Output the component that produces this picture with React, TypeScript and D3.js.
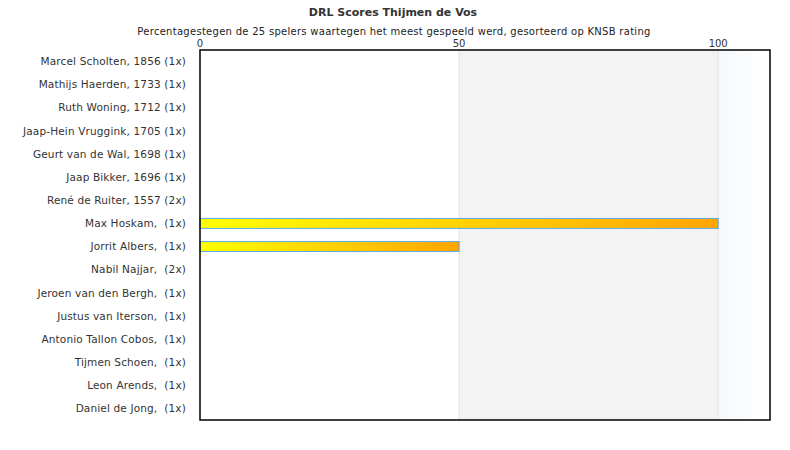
import { scaleBand, scaleLinear } from "d3";

const players = [
  "Marcel Scholten, 1856 (1x)",
  "Mathijs Haerden, 1733 (1x)",
  "Ruth Woning, 1712 (1x)",
  "Jaap-Hein Vruggink, 1705 (1x)",
  "Geurt van de Wal, 1698 (1x)",
  "Jaap Bikker, 1696 (1x)",
  "René de Ruiter, 1557 (2x)",
  "Max Hoskam,  (1x)",
  "Jorrit Albers,  (1x)",
  "Nabil Najjar,  (2x)",
  "Jeroen van den Bergh,  (1x)",
  "Justus van Iterson,  (1x)",
  "Antonio Tallon Cobos,  (1x)",
  "Tijmen Schoen,  (1x)",
  "Leon Arends,  (1x)",
  "Daniel de Jong,  (1x)",
];
const scores = [0, 0, 0, 0, 0, 0, 0, 100, 50, 0, 0, 0, 0, 0, 0, 0];
const ticks = [0, 50, 100];

export default function App() {
  const width = 790;
  const height = 450;
  const left = 200;
  const right = 770;
  const top = 50;
  const bottom = 420;

  const x = scaleLinear().domain([0, 110]).range([left, right]);
  const y = scaleBand<string>().domain(players).range([top, bottom]).paddingInner(0.57).paddingOuter(0.28);
  const font = "'DejaVu Sans', sans-serif";

  return (
    <svg width={width} height={height} style={{ position: "absolute", left: 0, top: 0 }} fontFamily={font}>
      <defs>
        <linearGradient id="barGrad" x1="0" x2="1" y1="0" y2="0">
          <stop offset="0%" stopColor="#ffff00" />
          <stop offset="100%" stopColor="#ffa500" />
        </linearGradient>
        <linearGradient id="tailGrad" x1="0" x2="1" y1="0" y2="0">
          <stop offset="0%" stopColor="#f6f9fc" />
          <stop offset="100%" stopColor="#ffffff" />
        </linearGradient>
      </defs>
      <rect width={width} height={height} fill="#ffffff" />
      <text x={393} y={16} textAnchor="middle" fontSize="11" fontWeight="bold" fill="#333">
        DRL Scores Thijmen de Vos
      </text>
      <text x={394} y={35} textAnchor="middle" fontSize="10" letterSpacing="0.28" fill="#222">
        Percentagestegen de 25 spelers waartegen het meest gespeeld werd, gesorteerd op KNSB rating
      </text>

      <rect x={x(50)} y={top} width={x(100) - x(50)} height={bottom - top} fill="#f3f3f3" />
      <rect x={x(100)} y={top} width={x(110) - x(100)} height={bottom - top} fill="url(#tailGrad)" />
      {ticks.slice(1).map((t) => (
        <line key={t} x1={x(t)} x2={x(t)} y1={top} y2={bottom} stroke="#e2e2e2" strokeWidth="1" />
      ))}
      {ticks.map((t) => (
        <text key={t} x={x(t)} y={47} textAnchor="middle" fontSize="10" fill="#333">
          {t}
        </text>
      ))}

      {players.map((p, i) => (
        <g key={p}>
          <text
            x={186}
            y={(y(p) ?? 0) + y.bandwidth() / 2}
            dy="0.35em"
            textAnchor="end"
            fontSize="10.5"
            letterSpacing="0.15"
            fill="#333"
            style={{ whiteSpace: "pre" }}
          >
            {p}
          </text>
          {scores[i] > 0 ? (
            <rect
              x={x(0)}
              y={y(p)}
              width={x(scores[i]) - x(0)}
              height={y.bandwidth()}
              fill="url(#barGrad)"
              stroke="#5aa9ee"
              strokeWidth="1"
            />
          ) : null}
        </g>
      ))}

      <rect x={left} y={top} width={right - left} height={bottom - top} fill="none" stroke="#000" strokeWidth="1.5" />
    </svg>
  );
}
